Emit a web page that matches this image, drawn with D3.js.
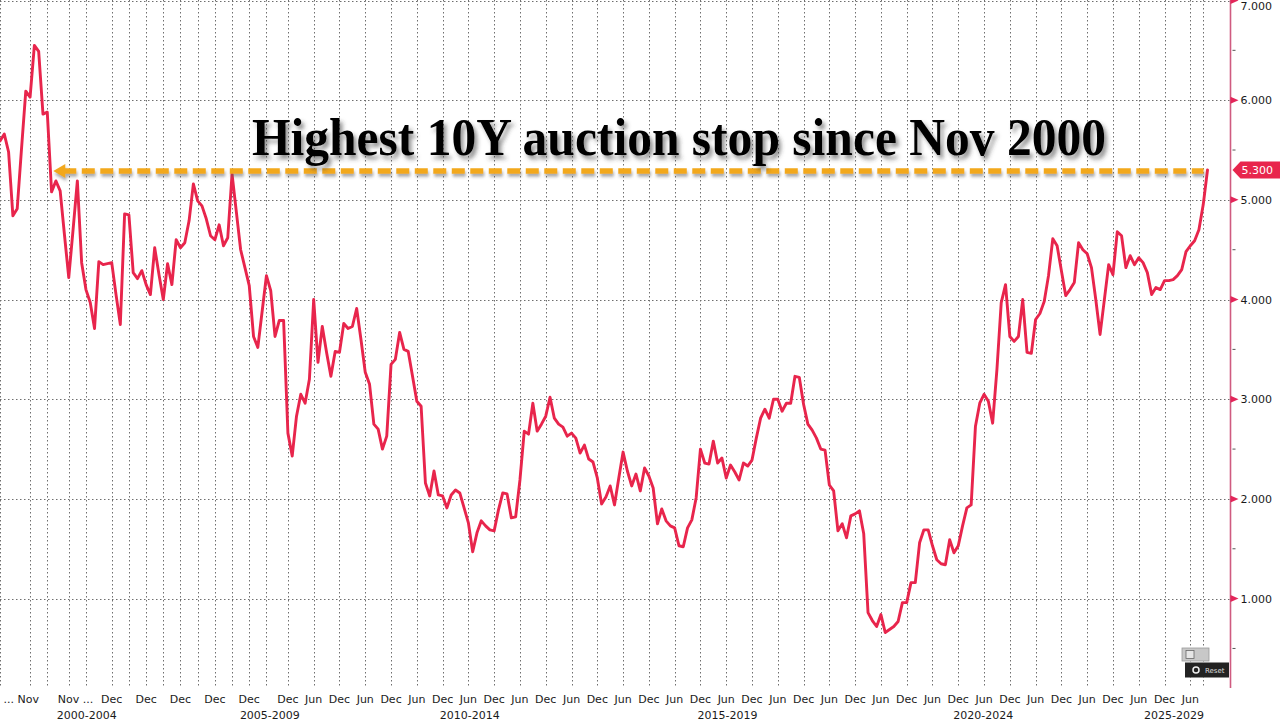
<!DOCTYPE html>
<html>
<head>
<meta charset="utf-8">
<script src="https://cdnjs.cloudflare.com/ajax/libs/d3/7.8.5/d3.min.js"></script>
<style>
  html, body { margin: 0; padding: 0; background: #ffffff; }
  svg { display: block; }
</style>
</head>
<body>
<svg id="chart" width="1280" height="722"></svg>
<script>
// ---------------- data (one value per 10Y auction, oldest first) ----------------
const auctionStops = [
  5.59, 5.66, 5.48, 4.84, 4.91, 5.51, 6.09, 6.03, 6.55, 6.49,
  5.86, 5.88, 5.08, 5.19, 5.09, 4.65, 4.22, 4.70, 5.19, 4.37,
  4.10, 3.97, 3.71, 4.38, 4.35, 4.36, 4.37, 4.05, 3.75, 4.86,
  4.85, 4.27, 4.21, 4.29, 4.15, 4.05, 4.52, 4.25, 4.00, 4.36,
  4.15, 4.60, 4.52, 4.57, 4.79, 5.16, 4.99, 4.94, 4.81, 4.64,
  4.60, 4.75, 4.54, 4.62, 5.26, 4.88, 4.50, 4.32, 4.14, 3.63,
  3.52, 3.88, 4.24, 4.09, 3.63, 3.79, 3.79, 2.66, 2.43, 2.83,
  3.05, 2.96, 3.20, 4.00, 3.37, 3.73, 3.47, 3.23, 3.48, 3.47,
  3.76, 3.71, 3.73, 3.91, 3.60, 3.27, 3.15, 2.75, 2.70, 2.50,
  2.63, 3.35, 3.40, 3.67, 3.50, 3.48, 3.23, 2.98, 2.93, 2.16,
  2.03, 2.28, 2.04, 2.03, 1.91, 2.04, 2.09, 2.06, 1.91, 1.76,
  1.47, 1.66, 1.78, 1.73, 1.69, 1.68, 1.89, 2.06, 2.05, 1.81,
  1.82, 2.19, 2.68, 2.65, 2.96, 2.68, 2.75, 2.83, 3.02, 2.81,
  2.75, 2.72, 2.63, 2.66, 2.61, 2.46, 2.54, 2.40, 2.37, 2.21,
  1.95, 2.02, 2.13, 1.94, 2.21, 2.47, 2.28, 2.13, 2.25, 2.08,
  2.31, 2.23, 2.11, 1.75, 1.90, 1.78, 1.73, 1.71, 1.53, 1.52,
  1.71, 1.79, 2.01, 2.50, 2.36, 2.35, 2.58, 2.36, 2.41, 2.21,
  2.34, 2.27, 2.19, 2.36, 2.33, 2.39, 2.61, 2.81, 2.90, 2.81,
  3.00, 3.00, 2.88, 2.96, 2.96, 3.23, 3.22, 2.95, 2.75, 2.69,
  2.61, 2.50, 2.49, 2.14, 2.08, 1.68, 1.75, 1.61, 1.83, 1.85,
  1.88, 1.65, 0.86, 0.78, 0.72, 0.84, 0.66, 0.69, 0.72, 0.77,
  0.96, 0.96, 1.16, 1.16, 1.56, 1.69, 1.69, 1.53, 1.39, 1.35,
  1.34, 1.59, 1.46, 1.53, 1.73, 1.91, 1.94, 2.73, 2.96, 3.05,
  2.98, 2.76, 3.30, 3.97, 4.15, 3.63, 3.58, 3.63, 4.00, 3.47,
  3.46, 3.80, 3.86, 3.98, 4.24, 4.61, 4.54, 4.29, 4.04, 4.10,
  4.17, 4.57, 4.50, 4.46, 4.32, 4.00, 3.65, 4.00, 4.35, 4.25,
  4.68, 4.64, 4.32, 4.44, 4.35, 4.42, 4.37, 4.27, 4.05, 4.12,
  4.10, 4.19, 4.19, 4.20, 4.24, 4.30, 4.48, 4.54, 4.59, 4.70,
  4.95, 5.30
];

// y axis ticks
const yMajorTicks = [1, 2, 3, 4, 5, 6, 7];
const yMinorTicks = [0.5, 1.5, 2.5, 3.5, 4.5, 5.5, 6.5];

// x axis: early labels (auction index -> label)
const earlyTickIdx    = [7, 16, 26, 34, 42, 50, 58];
const earlyTickLabels = ["... Nov", "Nov ...", "Dec", "Dec", "Dec", "Dec", "Dec"];
// later half-year labels (Dec / Jun), monthly auctions
const halfYearTickIdx = d3.range(67, 278, 6);
const halfYearLabels  = halfYearTickIdx.map((d, k) => (k % 2 === 0 ? "Dec" : "Jun"));
// unlabeled gridlines
const extraGridIdx = [0, 11, 20, 30, 38, 46, 54, 62, 280];
// period group labels
const periodLabels = ["2000-2004", "2005-2009", "2010-2014", "2015-2019", "2020-2024", "2025-2029"];
const periodCenterIdx = [20.2, 62.8, 109.3, 169.3, 228.8, 273.2];

// annotation
const annotationText = "Highest 10Y auction stop since Nov 2000";
const annotationFromIdx = 12.4;
const lastLabel = "5.300";

// ---------------- drawing ----------------
const W = 1280, H = 722;
const plotLeft = 0, plotRight = 1230.5, plotTop = 0, plotBottom = 688;
const svg = d3.select("#chart");

const x = d3.scaleLinear().domain([0, auctionStops.length - 1]).range([0, 1207.5]);
const y = d3.scaleLinear().domain([0, 7]).range([698.3, 0.5]);

const defs = svg.append("defs");
const fTitle = defs.append("filter").attr("id", "shadowTitle")
  .attr("x", "-5%").attr("y", "-30%").attr("width", "110%").attr("height", "160%");
fTitle.append("feDropShadow").attr("dx", 3).attr("dy", 4).attr("stdDeviation", 2.2)
  .attr("flood-color", "#3a3a3a").attr("flood-opacity", 0.55);
const fDash = defs.append("filter").attr("id", "shadowDash")
  .attr("x", "-2%").attr("y", "-200%").attr("width", "104%").attr("height", "500%");
fDash.append("feDropShadow").attr("dx", 1).attr("dy", 3).attr("stdDeviation", 1.8)
  .attr("flood-color", "#555").attr("flood-opacity", 0.5);

defs.append("clipPath").attr("id", "plotClip").append("rect")
  .attr("x", plotLeft).attr("y", plotTop).attr("width", plotRight - plotLeft).attr("height", plotBottom - plotTop);

// vertical grid
const gridIdx = [...earlyTickIdx, ...halfYearTickIdx, ...extraGridIdx];
svg.append("g").selectAll("line").data(gridIdx).join("line")
  .attr("x1", d => Math.round(x(d)) + 0.5).attr("x2", d => Math.round(x(d)) + 0.5)
  .attr("y1", plotTop).attr("y2", plotBottom)
  .attr("stroke", "#6e6e6e").attr("stroke-width", 1).attr("stroke-dasharray", "1.5,2.5");

// horizontal grid
svg.append("g").selectAll("line").data(yMajorTicks).join("line")
  .attr("x1", plotLeft).attr("x2", plotRight)
  .attr("y1", d => Math.round(y(d)) + 0.5).attr("y2", d => Math.round(y(d)) + 0.5)
  .attr("stroke", "#6e6e6e").attr("stroke-width", 1).attr("stroke-dasharray", "1.5,2.5");

// right axis
const axisG = svg.append("g").attr("transform", `translate(${plotRight},0)`);
axisG.append("line").attr("x1", 0).attr("x2", 0).attr("y1", 0).attr("y2", plotBottom)
  .attr("stroke", "#cf5b80").attr("stroke-width", 1.6);
axisG.selectAll("path.maj").data(yMajorTicks).join("path").attr("class", "maj")
  .attr("d", d => `M0,${y(d) - 3.5} L8,${y(d)} L0,${y(d) + 3.5} Z`)
  .attr("fill", "#e3265a");
axisG.selectAll("line.min").data(yMinorTicks).join("line").attr("class", "min")
  .attr("x1", 2).attr("x2", 5).attr("y1", d => y(d)).attr("y2", d => y(d))
  .attr("stroke", "#555").attr("stroke-width", 1);
axisG.selectAll("text").data(yMajorTicks).join("text")
  .attr("x", 10).attr("y", d => Math.max(y(d) + 4, 10))
  .attr("font-family", "DejaVu Sans, Verdana, sans-serif").attr("font-size", 11)
  .attr("fill", "#1a1a1a").text(d => d3.format(".3f")(d));

// x axis labels
const xLab = svg.append("g").attr("font-family", "DejaVu Sans, Verdana, sans-serif")
  .attr("font-size", 11).attr("fill", "#1a1a1a");
const tickData = [
  ...earlyTickIdx.map((d, k) => ({ i: d, t: earlyTickLabels[k] })),
  ...halfYearTickIdx.map((d, k) => ({ i: d, t: halfYearLabels[k] }))
];
xLab.selectAll("text.t").data(tickData).join("text").attr("class", "t")
  .attr("x", d => x(d.i) + (d.t.startsWith("...") ? 9 : d.t.endsWith("...") ? -11 : 0))
  .attr("y", 703)
  .attr("text-anchor", d => d.t.startsWith("...") ? "end" : d.t.endsWith("...") ? "start" : "middle")
  .text(d => d.t);
xLab.selectAll("text.p").data(periodLabels).join("text").attr("class", "p")
  .attr("x", (d, k) => x(periodCenterIdx[k])).attr("y", 719)
  .attr("text-anchor", "middle").text(d => d);

// data line
const line = d3.line().x((d, i) => x(i)).y(d => y(d));
svg.append("g").attr("clip-path", "url(#plotClip)")
  .append("path").datum(auctionStops)
  .attr("d", line).attr("fill", "none")
  .attr("stroke", "#e8254c").attr("stroke-width", 2.9)
  .attr("stroke-linejoin", "round").attr("stroke-linecap", "round");

// dashed annotation arrow at last value level
const lastVal = auctionStops[auctionStops.length - 1];
const ay = y(lastVal) + 1;
const arrowG = svg.append("g").attr("filter", "url(#shadowDash)");
arrowG.append("line")
  .attr("x1", x(annotationFromIdx) + 10).attr("x2", x(auctionStops.length - 1) - 4)
  .attr("y1", ay).attr("y2", ay)
  .attr("stroke", "#f2a81d").attr("stroke-width", 5.5).attr("stroke-dasharray", "13,5.5");
arrowG.append("path")
  .attr("d", `M${x(annotationFromIdx)},${ay} L${x(annotationFromIdx) + 12},${ay - 7} L${x(annotationFromIdx) + 12},${ay + 7} Z`)
  .attr("fill", "#f2a81d");

// title annotation
svg.append("text")
  .attr("x", 252).attr("y", 155)
  .attr("font-family", "Liberation Serif, Times New Roman, serif")
  .attr("font-weight", "bold").attr("font-size", 52)
  .attr("textLength", 854).attr("lengthAdjust", "spacingAndGlyphs")
  .attr("fill", "#000").attr("filter", "url(#shadowTitle)")
  .text(annotationText);

// last value tag on the axis
const tagY = y(lastVal);
const tagG = svg.append("g");
tagG.append("path")
  .attr("d", `M${plotRight + 2},${tagY} L${plotRight + 10},${tagY - 8.5} L${W},${tagY - 8.5} L${W},${tagY + 8.5} L${plotRight + 10},${tagY + 8.5} Z`)
  .attr("fill", "#e8254c");
tagG.append("text").attr("x", plotRight + 11).attr("y", tagY + 4)
  .attr("font-family", "DejaVu Sans, Verdana, sans-serif").attr("font-size", 11)
  .attr("fill", "#fff").text(lastLabel);

// small reset widget (bottom right)
const rw = svg.append("g");
rw.append("rect").attr("x", 1182).attr("y", 648).attr("width", 27).attr("height", 13)
  .attr("fill", "#c8c8c8").attr("stroke", "#9a9a9a").attr("stroke-width", 0.8);
rw.append("rect").attr("x", 1186).attr("y", 650.5).attr("width", 8).attr("height", 8)
  .attr("fill", "#e6e6e6").attr("stroke", "#666").attr("stroke-width", 0.8);
rw.append("rect").attr("x", 1185).attr("y", 662.5).attr("width", 44).attr("height", 15)
  .attr("fill", "#222");
rw.append("circle").attr("cx", 1196).attr("cy", 670).attr("r", 3).attr("fill", "none")
  .attr("stroke", "#eee").attr("stroke-width", 1.5);
rw.append("text").attr("x", 1205).attr("y", 673).attr("font-family", "DejaVu Sans, sans-serif")
  .attr("font-size", 7).attr("fill", "#ddd").text("Reset");
</script>
</body>
</html>
